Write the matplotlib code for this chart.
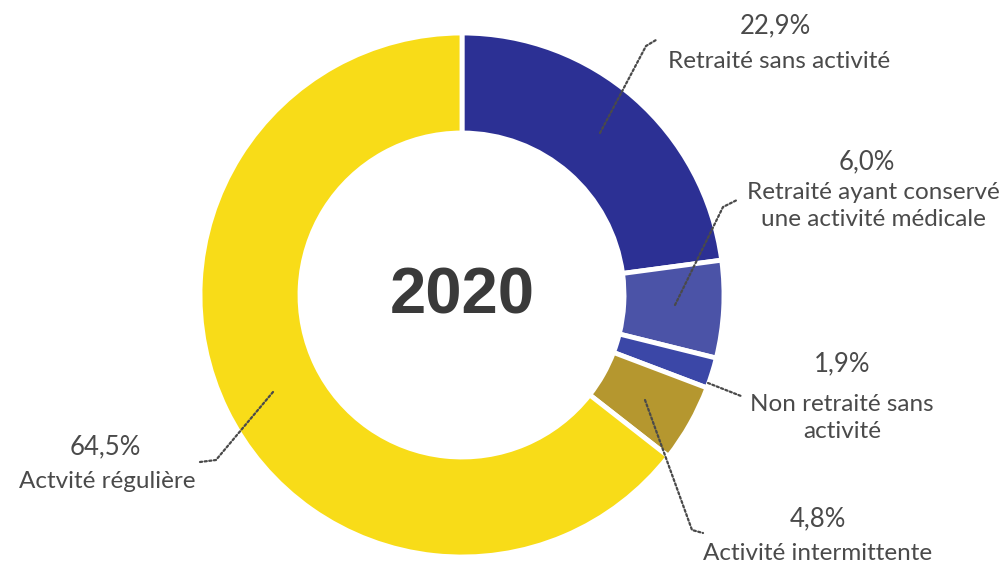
import matplotlib.pyplot as plt
import numpy as np

labels = ["Retraité sans activité", "Retraité ayant conservé\nune activité médicale",
          "Non retraité sans\nactivité", "Activité intermittente", "Actvité régulière"]
shares = [22.9, 6.0, 1.9, 4.8, 64.5]
pct_text = ["22,9%", "6,0%", "1,9%", "4,8%", "64,5%"]
colors = ["#2c3094", "#4b53a7", "#3b47a7", "#b5972f", "#f8dc18"]

# layout in pixel units, y grows downwards
W, H = 1007, 565
center = (462, 295)
r_out, r_in = 262, 162

# percentage anchor, label anchor (centres)
pct_pos = [(775, 26), (867, 162), (842, 364), (818, 519), (105, 447)]
lab_pos = [(779, 61), (873, 206), (842, 418), (818, 553), (107, 482)]

# dotted leader paths
leaders = [
    [(600, 133), (646, 46), (656, 40)],
    [(675, 305), (723, 207), (737, 200)],
    [(708, 383), (741, 396)],
    [(645, 400), (692, 530), (703, 533)],
    [(273, 392), (216, 460), (200, 462)],
]

fig = plt.figure(figsize=(W / 100, H / 100), dpi=100)
ax = fig.add_axes([0, 0, 1, 1])

ax.pie(shares, colors=colors, center=center, radius=r_out,
       startangle=-90, counterclock=True, normalize=True,
       wedgeprops=dict(width=r_out - r_in, edgecolor="white", linewidth=3.5),
       frame=True)
ax.set_xlim(0, W)
ax.set_ylim(H, 0)
ax.set_aspect("equal")
ax.axis("off")

for path in leaders:
    xs, ys = zip(*path)
    ax.plot(xs, ys, color="#4a4a4a", lw=1.6, ls=(0, (1, 1.1)),
            dash_capstyle="round")

txt = dict(family="Lato", fontweight="normal", color="#4a4a4a",
           ha="center", va="center")
for (px, py), p in zip(pct_pos, pct_text):
    ax.text(px, py, p, fontsize=18.5, **txt)
for (lx, ly), lab in zip(lab_pos, labels):
    ax.text(lx, ly, lab, fontsize=17.5, linespacing=1.4, **txt)

ax.text(center[0], center[1] + 2, "2020", family="Liberation Sans",
        fontweight="bold", fontsize=47, color="#3a3a3a",
        ha="center", va="center")

fig.savefig("out.png", dpi=100)
